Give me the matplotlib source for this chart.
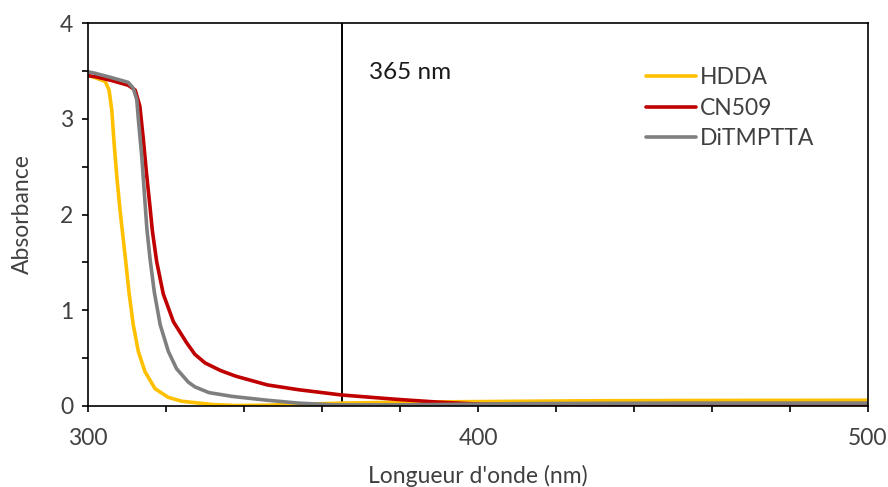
import matplotlib
matplotlib.use("Agg")
import matplotlib.pyplot as plt
from matplotlib.ticker import MultipleLocator, FixedLocator

plt.rcParams['font.family'] = ['Lato', 'DejaVu Sans']

# ---- data ----
hdda_x = [300, 301.8, 304.4, 305.4, 306.1, 306.7, 307.4, 308.2, 309.1, 309.7, 310.5, 311.6, 312.9,
          314.6, 317.2, 320.6, 324.0, 327.4, 332, 338, 345, 355, 365, 380, 413, 431, 460, 500]
hdda_y = [3.45, 3.43, 3.39, 3.30, 3.09, 2.74, 2.39, 2.05, 1.72, 1.50, 1.19, 0.85, 0.57,
          0.36, 0.18, 0.09, 0.05, 0.035, 0.015, 0.005, 0.008, 0.018, 0.03, 0.04, 0.05, 0.055, 0.058, 0.06]

cn509_x = [300, 301.8, 306, 310.3, 312.1, 313.3, 314.2, 315.0, 315.9, 316.5, 317.6, 319.3, 321.9,
           325.3, 327.4, 330, 334, 338, 346, 354, 365, 379, 390, 400, 420, 450, 500]
cn509_y = [3.45, 3.44, 3.40, 3.35, 3.30, 3.13, 2.78, 2.43, 2.08, 1.83, 1.51, 1.17, 0.88,
           0.66, 0.54, 0.45, 0.37, 0.31, 0.22, 0.17, 0.115, 0.07, 0.04, 0.02, 0.015, 0.015, 0.015]

ditmptta_x = [300, 301.8, 306, 310.3, 311.6, 312.5, 312.9, 313.8, 314.4, 315.1, 315.9, 317.0, 318.5,
              320.6, 322.7, 325.7, 327.4, 331, 337, 346, 354, 363, 380, 413, 450, 500]
ditmptta_y = [3.49, 3.475, 3.43, 3.38, 3.32, 3.20, 3.00, 2.60, 2.25, 1.85, 1.54, 1.19, 0.85,
              0.57, 0.39, 0.25, 0.20, 0.14, 0.10, 0.06, 0.03, 0.012, 0.012, 0.025, 0.03, 0.03]

series_names = ["HDDA", "CN509", "DiTMPTTA"]
series_colors = ["#FFC000", "#C00000", "#7F7F7F"]
marker_wavelength = 365
marker_label = "365 nm"
x_labels = [300, 400, 500]
y_labels = [0, 1, 2, 3, 4]

W, H = 888, 487
fig = plt.figure(figsize=(W / 100, H / 100), dpi=100)
ax = fig.add_axes([88 / W, 1 - 406 / H, (868 - 88) / W, (406 - 23) / H])

for x, y, name, c in zip([hdda_x, cn509_x, ditmptta_x], [hdda_y, cn509_y, ditmptta_y],
                         series_names, series_colors):
    ax.plot(x, y, color=c, lw=2.6, label=name, solid_joinstyle='round', solid_capstyle='round')

ax.axvline(marker_wavelength, color='black', lw=1.4, zorder=1)
ax.text(372.0, 3.48, marker_label, fontsize=17.5, color='#1a1a1a', va='center', ha='left')

ax.set_xlim(300, 500)
ax.set_ylim(0, 4)
ax.xaxis.set_major_locator(FixedLocator(x_labels))
ax.xaxis.set_minor_locator(MultipleLocator(20))
ax.yaxis.set_major_locator(FixedLocator(y_labels))
ax.yaxis.set_minor_locator(MultipleLocator(0.5))

txt = '#404040'
fs = 16.5
ax.tick_params(axis='both', which='both', direction='out', length=4.5, width=1.2, color='black')
ax.tick_params(axis='x', which='major', pad=11, labelsize=fs, labelcolor=txt)
ax.tick_params(axis='y', which='major', pad=6, labelsize=fs, labelcolor=txt)
for s in ax.spines.values():
    s.set_linewidth(1.2)
    s.set_color('black')

ax.set_xlabel("Longueur d'onde (nm)", fontsize=fs, color=txt, va='center')
ax.set_ylabel("Absorbance", fontsize=fs, color=txt, va='center')
ax.xaxis.set_label_coords(0.5, (406 - 476) / 383)
ax.yaxis.set_label_coords((22 - 88) / 780, 0.5)

leg = ax.legend(loc='upper left', bbox_to_anchor=((646 - 88) / 780, (406 - 67) / 383),
                frameon=False, fontsize=fs, handlelength=2.2, handletextpad=0.15,
                labelspacing=0.42, borderaxespad=0, borderpad=0)
for t in leg.get_texts():
    t.set_color(txt)

fig.savefig("out.png", dpi=100)
